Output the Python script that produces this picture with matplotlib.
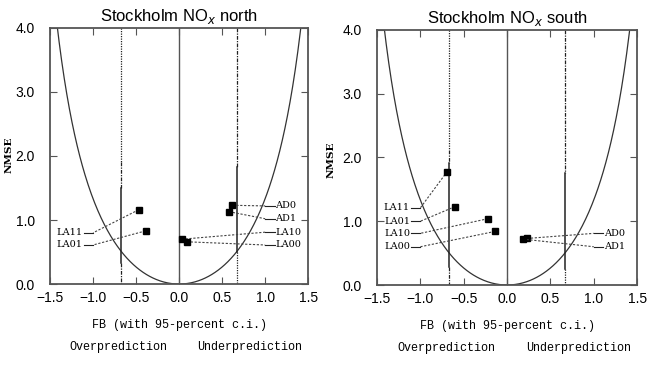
import numpy as np
import matplotlib
matplotlib.use("Agg")
import matplotlib.pyplot as plt

# panel titles
titles = ["Stockholm NO$_x$ north", "Stockholm NO$_x$ south"]

# model points: name, FB, NMSE, label height
north_names = ["LA11", "LA01", "AD0", "AD1", "LA10", "LA00"]
north_fb = [-0.47, -0.39, 0.62, 0.58, 0.03, 0.09]
north_nmse = [1.16, 0.83, 1.23, 1.13, 0.70, 0.66]
north_lab_y = [0.80, 0.61, 1.22, 1.02, 0.81, 0.61]

south_names = ["LA11", "LA01", "LA10", "LA00", "AD0", "AD1"]
south_fb = [-0.69, -0.60, -0.22, -0.14, 0.23, 0.18]
south_nmse = [1.78, 1.23, 1.04, 0.84, 0.73, 0.72]
south_lab_y = [1.21, 1.00, 0.81, 0.60, 0.81, 0.60]

# confidence-interval bars at FB = +-0.67: (x, y_top, y_bottom, style)
ci_fb = 0.67
north_ci = [(-ci_fb, 4.0, 1.9, "dot"), (-ci_fb, 1.9, 1.5, "dashdot"),
            (-ci_fb, 1.5, 0.33, "solid"), (-ci_fb, 0.33, 0.0, "dashdot"),
            (ci_fb, 4.0, 1.83, "dashdot"), (ci_fb, 1.83, 0.5, "solid"),
            (ci_fb, 0.5, 0.0, "dot")]
south_ci = [(-ci_fb, 4.0, 2.12, "dot"), (-ci_fb, 2.12, 1.91, "dashdot"),
            (-ci_fb, 1.91, 0.28, "solid"), (-ci_fb, 0.28, 0.0, "dashdot"),
            (ci_fb, 4.0, 1.76, "dashdot"), (ci_fb, 1.76, 0.25, "solid"),
            (ci_fb, 0.25, 0.0, "dot")]

styles = {"dot": (0, (1, 1)), "dashdot": (0, (3, 1, 1, 1)), "solid": "-"}

fig = plt.figure(figsize=(6.47, 3.67), dpi=100)
axes = [fig.add_axes([0.0773, 0.226, 0.399, 0.698]),
        fig.add_axes([0.5827, 0.2234, 0.402, 0.695])]

panels = [(north_names, north_fb, north_nmse, north_lab_y, north_ci),
          (south_names, south_fb, south_nmse, south_lab_y, south_ci)]
# NMSE label positions (figure fraction)
nmse_pos = [(0.014, 0.578), (0.511, 0.564)]

mono = "Liberation Mono"
gray = "#555555"

for ax, title, (names, fb, nmse, lab_y, ci), npos in zip(axes, titles, panels, nmse_pos):
    ax.set_xlim(-1.5, 1.5)
    ax.set_ylim(0, 4)

    # minimum NMSE for a given FB
    fbc = np.linspace(-1.5, 1.5, 400)
    ax.plot(fbc, 4 * fbc**2 / (4 - fbc**2), color="#333333", lw=0.9)

    ax.axvline(0, color=gray, lw=1.0)
    for x, y0, y1, st in ci:
        ax.plot([x, x], [y0, y1], color="#222222", lw=1.1 if st == "solid" else 0.9,
                linestyle=styles[st])

    for name, x, y, ly in zip(names, fb, nmse, lab_y):
        side = -1 if name.startswith("LA") and x < 0 else 1
        ax.plot([x, side * 1.0], [y, ly], color="#444444", lw=0.8, linestyle=(0, (2, 1.5)))
        ax.plot([side * 1.0, side * 1.11], [ly, ly], color="#222222", lw=0.8)
        ax.text(side * 1.12, ly, name, ha="right" if side < 0 else "left", va="center",
                fontsize=7, family="DejaVu Serif")
        ax.plot(x, y, "s", color="black", ms=4.5)

    ax.set_xticks([-1.5, -1.0, -0.5, 0.0, 0.5, 1.0, 1.5])
    ax.set_xticklabels(["\u22121.5", "\u22121.0", "\u22120.5", "0.0", "0.5", "1.0", "1.5"],
                       family="Liberation Sans", fontsize=10)
    ax.set_yticks([0, 1, 2, 3, 4])
    ax.set_yticklabels(["0.0", "1.0", "2.0", "3.0", "4.0"], family="Liberation Sans", fontsize=10)
    ax.tick_params(direction="in", length=5, top=True, right=True, color=gray, pad=5)
    ax.tick_params(axis="y", pad=11)
    for sp in ax.spines.values():
        sp.set_color(gray)
        sp.set_linewidth(1.3)

    ax.set_title(title, fontsize=12, family="Liberation Sans", pad=5)
    ax.set_xlabel("FB (with 95-percent c.i.)", family=mono, fontsize=8.5, labelpad=10)
    fig.text(npos[0], npos[1], "NMSE", rotation=90, ha="center", va="center",
             fontsize=7.5, fontweight="bold", family="DejaVu Serif")
    ax.text(-0.7, -0.245, "Overprediction", transform=ax.get_xaxis_transform(),
            ha="center", va="center", family=mono, fontsize=8.5)
    ax.text(0.82, -0.245, "Underprediction", transform=ax.get_xaxis_transform(),
            ha="center", va="center", family=mono, fontsize=8.5)

fig.savefig("out.png", dpi=100)
